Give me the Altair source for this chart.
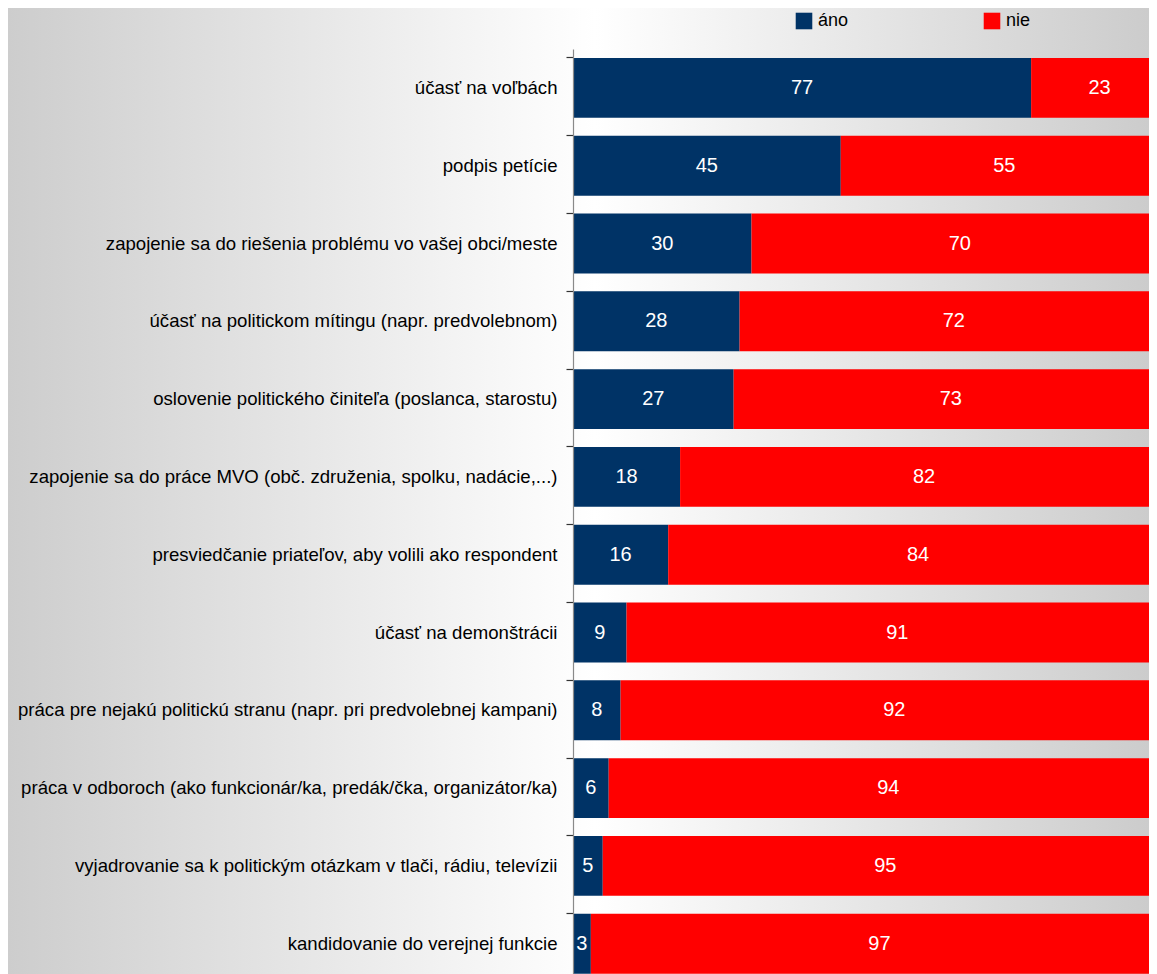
import altair as alt
import pandas as pd

items = [
    "účasť na voľbách",
    "podpis petície",
    "zapojenie sa do riešenia problému vo vašej obci/meste",
    "účasť na politickom mítingu (napr. predvolebnom)",
    "oslovenie politického činiteľa (poslanca, starostu)",
    "zapojenie sa do práce MVO (obč. združenia, spolku, nadácie,...)",
    "presviedčanie priateľov, aby volili ako respondent",
    "účasť na demonštrácii",
    "práca pre nejakú politickú stranu (napr. pri predvolebnej kampani)",
    "práca v odboroch (ako funkcionár/ka, predák/čka, organizátor/ka)",
    "vyjadrovanie sa k politickým otázkam v tlači, rádiu, televízii",
    "kandidovanie do verejnej funkcie",
]
ano = [77, 45, 30, 28, 27, 18, 16, 9, 8, 6, 5, 3]
nie = [23, 55, 70, 72, 73, 82, 84, 91, 92, 94, 95, 97]
series = ["áno", "nie"]
colors = ["#003366", "#ff0000"]

rows = []
for it, a, n in zip(items, ano, nie):
    rows.append({"item": it, "series": "áno", "value": a, "ord": 0})
    rows.append({"item": it, "series": "nie", "value": n, "ord": 1})
df = pd.DataFrame(rows)

W, H = 576, 925
FONT = "Liberation Sans"

bg = alt.Chart(pd.DataFrame({"k": [0]})).mark_rect(
    fill=alt.LinearGradient(
        gradient="linear",
        stops=[
            alt.GradientStop(color="#cdcdcd", offset=0),
            alt.GradientStop(color="#ffffff", offset=0.51),
            alt.GradientStop(color="#cbcbcb", offset=1),
        ],
        x1=0, x2=1, y1=0, y2=0,
    )
).encode(
    x=alt.value(-565), x2=alt.value(W + 10),
    y=alt.value(-41), y2=alt.value(H + 10),
)

base = alt.Chart(df).transform_stack(
    stack="value", groupby=["item"], as_=["x0", "x1"],
    sort=[alt.SortField("ord", order="ascending")],
).transform_calculate(mid="(datum.x0 + datum.x1) / 2")

yaxis = alt.Axis(
    labelFont=FONT, labelFontSize=18.6, labelColor="#000000",
    labelPadding=9, labelLimit=600,
    tickSize=7, tickColor="#333333", tickWidth=1.2,
    domainColor="#8a8a8a", domainWidth=1.2,
    grid=False, bandPosition=0, zindex=2,
)
yscale = alt.Scale(range=[0, 933.6], paddingInner=0.23, paddingOuter=0.115)
xscale = alt.Scale(domain=[0, 100], range=[0, 595])

bars = base.mark_bar(cornerRadius=0).encode(
    y=alt.Y("item:N", sort=items, title=None, scale=yscale, axis=yaxis),
    x=alt.X("x0:Q", scale=xscale, axis=None),
    x2="x1:Q",
    color=alt.Color(
        "series:N",
        scale=alt.Scale(domain=series, range=colors),
        legend=alt.Legend(
            title=None, orient="none", legendX=222, legendY=-37,
            direction="horizontal", symbolType="square", symbolSize=275,
            symbolStrokeWidth=0, labelFont=FONT, labelFontSize=18,
            labelColor="#000000", labelOffset=5, columnPadding=134,
            padding=0,
        ),
    ),
)

labels = base.mark_text(
    color="white", font=FONT, fontSize=20,
    align="center", baseline="middle",
).encode(
    y=alt.Y("item:N", sort=items, title=None, scale=yscale, axis=yaxis),
    x=alt.X("mid:Q", scale=xscale, axis=None),
    text="value:Q",
)

chart = alt.layer(bg, bars, labels).properties(
    width=W, height=H,
    autosize=alt.AutoSizeParams(type="none"),
    padding={"left": 565, "top": 41, "right": 0, "bottom": 0},
).configure_view(stroke=None).configure(background="white")

chart.save("out.html", embed_options={"renderer": "svg", "actions": False})
